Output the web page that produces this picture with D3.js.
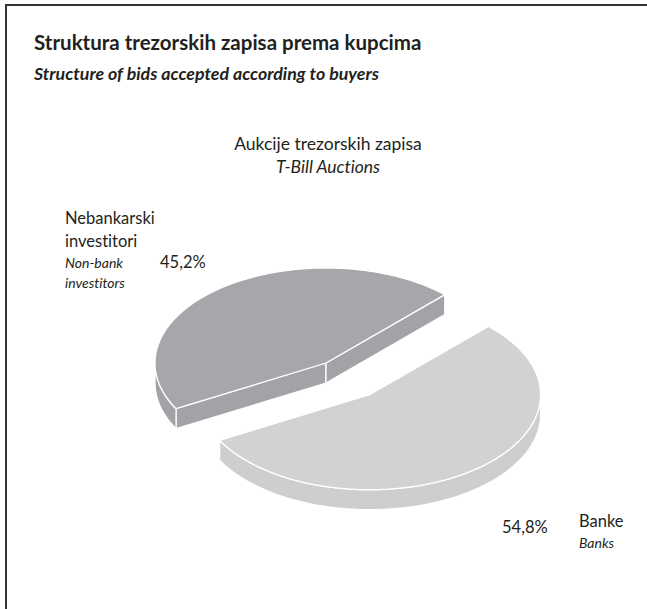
<!DOCTYPE html>
<html><head><meta charset="utf-8">
<script src="https://cdn.jsdelivr.net/npm/d3@7"></script>
<style>html,body{margin:0;padding:0;background:#fff;}svg{display:block;}text{font-variant-ligatures:none;}</style>
</head><body>
<script>
// ---- data ----
const categories = ["Banke", "Nebankarski investitori"];
const categoriesEn = ["Banks", "Non-bank investitors"];
const values = [54.8, 45.2];
const valueLabels = ["54,8%", "45,2%"];
const colors = ["#d1d2d4", "#a6a7aa"];
const sideColors = ["#cdced0", "#a2a3a6"];

const W = 647, H = 609;
const svg = d3.select("body").append("svg").attr("width", W).attr("height", H);
const font = "Lato, 'Open Sans', sans-serif";
const txt = "#231f20";

// frame
svg.append("path").attr("d", `M6,${H} L6,5 L${W},5`).attr("fill", "none")
  .attr("stroke", "#333").attr("stroke-width", 2);

svg.append("text").attr("x", 34).attr("y", 50).attr("font-family", font).attr("font-weight", 700)
  .attr("font-size", 20.5).attr("fill", txt).text("Struktura trezorskih zapisa prema kupcima");
svg.append("text").attr("x", 34).attr("y", 80).attr("font-family", font).attr("font-weight", 700)
  .attr("font-style", "italic").attr("font-size", 17.8).attr("fill", txt).text("Structure of bids accepted according to buyers");
svg.append("text").attr("x", 328).attr("y", 150).attr("text-anchor", "middle").attr("font-family", font)
  .attr("font-weight", 400).attr("font-size", 17.5).attr("fill", txt).text("Aukcije trezorskih zapisa");
svg.append("text").attr("x", 328).attr("y", 173).attr("text-anchor", "middle").attr("font-family", font)
  .attr("font-weight", 400).attr("font-style", "italic").attr("font-size", 17.5).attr("fill", txt).text("T-Bill Auctions");

// ---- pie ----
const rx = 171, ry = 95, depth = 20;
const base = {x: 326, y: 363};
const explode = [0.42, 0];
const deg = Math.PI / 180;
const pie = d3.pie().sort(null).value(d => d).startAngle(44 * deg).endAngle(44 * deg + 2 * Math.PI);
const arcs = pie(values);

const line = d3.line();
function pt(c, t, dy = 0) { return [c.x + rx * Math.cos(t), c.y + ry * Math.sin(t) + dy]; }
function arcPts(c, t0, t1, dy = 0) {
  const n = Math.max(2, Math.ceil(Math.abs(t1 - t0) / (1 * deg)));
  return d3.range(n + 1).map(i => pt(c, t0 + (t1 - t0) * i / n, dy));
}

const g = svg.append("g");
// draw back slice (Nebankarski) first, then front
[1, 0].forEach(i => {
  const a = arcs[i];
  const t0 = a.startAngle - Math.PI / 2, t1 = a.endAngle - Math.PI / 2;
  const mid = (t0 + t1) / 2;
  const c = {x: base.x + explode[i] * rx * Math.cos(mid), y: base.y + explode[i] * ry * Math.sin(mid)};
  const sg = g.append("g").attr("stroke", "#fff").attr("stroke-width", 1.3).attr("stroke-linejoin", "round");
  // radial walls
  [[t0, -1], [t1, 1]].forEach(([t, s]) => {
    const vis = s < 0 ? Math.cos(t) < 0 : Math.cos(t) > 0;
    if (!vis) return;
    const p = pt(c, t);
    const poly = [[c.x, c.y], p, [p[0], p[1] + depth], [c.x, c.y + depth]];
    sg.append("path").attr("d", line(poly) + "Z").attr("fill", sideColors[i]);
  });
  // outer wall (front half)
  for (let k = -1; k <= 1; k++) {
    const lo = Math.max(t0, 2 * Math.PI * k), hi = Math.min(t1, 2 * Math.PI * k + Math.PI);
    if (hi <= lo) continue;
    const top = arcPts(c, lo, hi), bot = arcPts(c, hi, lo, depth);
    sg.append("path").attr("d", line(top.concat(bot)) + "Z").attr("fill", sideColors[i]);
  }
  // top face
  const face = [[c.x, c.y]].concat(arcPts(c, t0, t1));
  sg.append("path").attr("d", line(face) + "Z").attr("fill", colors[i]);
});

// ---- labels ----
const lab = svg.append("g").attr("font-family", font).attr("fill", txt).attr("font-weight", 400);
lab.append("text").attr("x", 65).attr("y", 224).attr("font-size", 16.5).text("Nebankarski");
lab.append("text").attr("x", 65).attr("y", 247).attr("font-size", 16.5).text("investitori");
lab.append("text").attr("x", 65).attr("y", 268).attr("font-size", 14).attr("font-style", "italic").text("Non-bank");
lab.append("text").attr("x", 65).attr("y", 288).attr("font-size", 14).attr("font-style", "italic").text("investitors");
lab.append("text").attr("x", 160).attr("y", 268).attr("font-size", 16.5).text(valueLabels[1]);
lab.append("text").attr("x", 502).attr("y", 533).attr("font-size", 16.5).text(valueLabels[0]);
lab.append("text").attr("x", 579).attr("y", 527).attr("font-size", 16.5).text(categories[0]);
lab.append("text").attr("x", 579).attr("y", 548).attr("font-size", 14).attr("font-style", "italic").text(categoriesEn[0]);
</script>
</body></html>
